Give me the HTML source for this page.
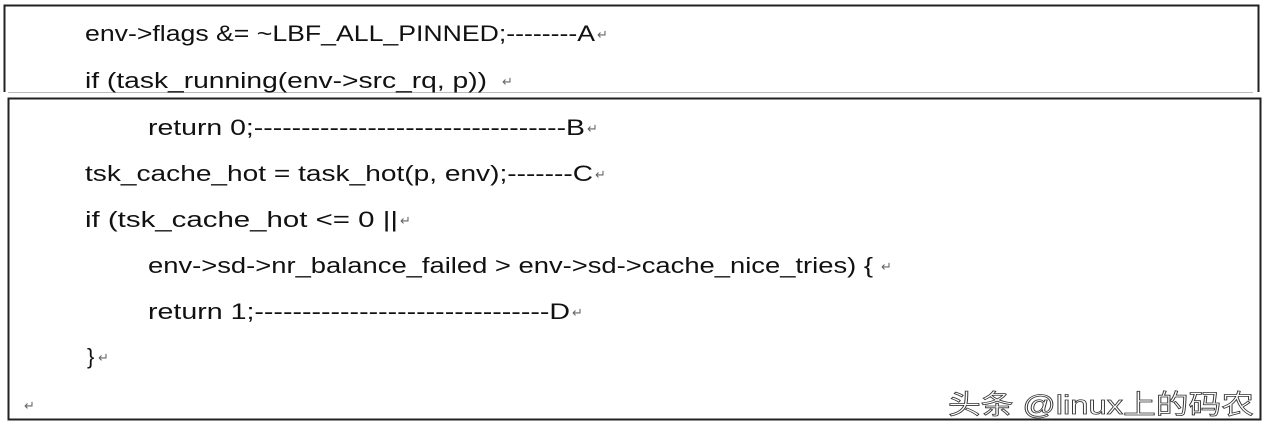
<!DOCTYPE html>
<html><head><meta charset="utf-8"><style>
html,body{margin:0;padding:0;background:#fff;}
svg{display:block}
text{font-family:"Liberation Sans",sans-serif;font-size:22px;fill:#111;}
.r{font-size:13px;fill:#666}
</style></head><body>
<svg width="1268" height="432" viewBox="0 0 1268 432" xmlns="http://www.w3.org/2000/svg">
<rect width="1268" height="432" fill="#fff"/>
<path d="M4.5 92 V5.5 H1258.5 V92" fill="none" stroke="#222" stroke-width="2"/>
<path d="M8 92.5 H1253" stroke="#bbb" stroke-width="1"/>
<rect x="8.5" y="98.5" width="1252" height="321" fill="none" stroke="#222" stroke-width="2"/>
<text x="85" y="41" textLength="510" lengthAdjust="spacingAndGlyphs">env-&gt;flags &amp;= ~LBF_ALL_PINNED;--------A</text><text class="r" x="597" y="39">↵</text>
<text x="85" y="88" textLength="402" lengthAdjust="spacingAndGlyphs">if (task_running(env-&gt;src_rq, p))</text><text class="r" x="502" y="86">↵</text>
<text x="148" y="135" textLength="437" lengthAdjust="spacingAndGlyphs">return 0;---------------------------------B</text><text class="r" x="587" y="133">↵</text>
<text x="85" y="181" textLength="508" lengthAdjust="spacingAndGlyphs">tsk_cache_hot = task_hot(p, env);-------C</text><text class="r" x="595" y="179">↵</text>
<text x="85" y="227" textLength="313" lengthAdjust="spacingAndGlyphs">if (tsk_cache_hot &lt;= 0 ||</text><text class="r" x="400" y="225">↵</text>
<text x="148" y="273" textLength="725" lengthAdjust="spacingAndGlyphs">env-&gt;sd-&gt;nr_balance_failed &gt; env-&gt;sd-&gt;cache_nice_tries) {</text><text class="r" x="881" y="271">↵</text>
<text x="148" y="319" textLength="422" lengthAdjust="spacingAndGlyphs">return 1;-------------------------------D</text><text class="r" x="572" y="317">↵</text>
<text x="87" y="364">}</text><text class="r" x="98" y="362">↵</text>
<text class="r" x="24" y="410">↵</text>
<text x="948" y="414" textLength="306" lengthAdjust="spacingAndGlyphs" style="font-family:'Liberation Sans','Noto Sans CJK SC',sans-serif;font-size:27px;fill:#fff;stroke:#333;stroke-width:0.8">头条 @linux上的码农</text>
</svg>
</body></html>
